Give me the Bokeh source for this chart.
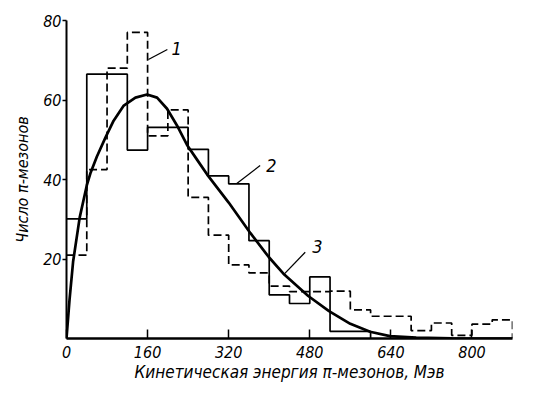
from bokeh.plotting import figure
from bokeh.models import Range1d, FixedTicker, ColumnDataSource
from bokeh.core.properties import value
from bokeh.embed import file_html
from bokeh.resources import INLINE

FONT = "DejaVu Sans Condensed"

# 40 MeV bins, edges 0..880
bin_edges = list(range(0, 881, 40))
# histogram 1 (dashed)
hist1 = [21, 42.5, 68, 77, 51, 57.5, 35.5, 26, 18.5, 16.5, 13.2, 11.8,
         11.8, 11.9, 7.2, 5.6, 5.6, 2.0, 3.9, 0.8, 3.6, 4.7]
# histogram 2 (solid)
hist2 = [30.1, 66.5, 66.5, 47.4, 53.1, 53.1, 47.6, 40.9, 38.9, 24.6, 11.0, 8.8,
         15.5, 1.8, 1.8, 0, 0, 0, 0, 0, 0, 0]
# curve 3 (smooth theoretical)
curve_x = [0, 6, 13, 26, 40, 47, 60, 77, 93, 113, 136, 159, 178.7, 198.4,
           218, 237.8, 257.5, 277.2, 320, 363, 399, 428, 477, 518, 560, 599, 638,
           690, 760, 880]
curve_y = [0, 9.8, 19.3, 30.4, 38.5, 41.5, 45.8, 50.6, 54.8, 58.6, 60.6, 61.4, 60.6,
           57.8, 53.6, 48.7, 45, 41.3, 34.2, 26.5, 20.5, 16.3, 10.7, 6.9, 3.7, 1.7,
           0.6, 0.2, 0.05, 0]

x_ticks = [0, 160, 320, 480, 640, 800]
y_ticks = [20, 40, 60, 80]

curve_names = ["1", "2", "3"]
leader_x0 = [161.6, 336, 428]
leader_y0 = [70.2, 39, 16.0]
leader_x1 = [199, 382, 471]
leader_y1 = [72.7, 43.5, 21.7]
name_x = [207, 394, 485]
name_y = [72.9, 43.6, 23.2]


def steps(edges, vals):
    xs, ys = [], []
    last = max(i for i, v in enumerate(vals) if v > 0)
    for i in range(last + 1):
        xs += [edges[i], edges[i + 1]]
        ys += [vals[i], vals[i]]
    xs.append(edges[last + 1])
    ys.append(0)
    return xs, ys


p = figure(width=518, height=384, output_backend="svg", toolbar_location=None,
           x_range=Range1d(0, 880), y_range=Range1d(0, 80),
           min_border_left=66, min_border_right=6, min_border_top=20,
           min_border_bottom=39)
p.outline_line_color = None
p.grid.visible = False
p.background_fill_color = "white"
p.border_fill_color = "white"

h1x, h1y = steps(bin_edges, hist1)
h2x, h2y = steps(bin_edges, hist2)
p.line(h1x, h1y, line_color="black", line_width=1.7, line_dash="8 4")
p.line(h2x, h2y, line_color="black", line_width=1.7)
p.line(curve_x, curve_y, line_color="black", line_width=2.7)

p.segment(x0=leader_x0, y0=leader_y0, x1=leader_x1, y1=leader_y1,
          line_color="black", line_width=1.3)
src = ColumnDataSource(dict(x=name_x, y=name_y, t=curve_names))
p.text(x="x", y="y", text="t", source=src, text_font=value(FONT),
       text_font_size="18px", text_font_style="italic", text_align="left",
       text_baseline="middle", text_color="black")

for ax in (p.xaxis, p.yaxis):
    ax.axis_line_color = "black"
    ax.major_tick_line_color = "black"
    ax.minor_tick_line_color = None
    ax.major_label_text_font = FONT
    ax.major_label_text_font_style = "italic"
    ax.major_label_text_font_size = "16px"
    ax.major_label_text_color = "black"
    ax.axis_label_text_font = FONT
    ax.axis_label_text_font_style = "italic"
    ax.axis_label_text_color = "black"

p.xaxis.ticker = FixedTicker(ticks=x_ticks)
p.xaxis.axis_line_width = 2.5
p.xaxis.major_tick_line_width = 1.5
p.xaxis.major_tick_in = 9
p.xaxis.major_tick_out = 0
p.xaxis.major_label_standoff = 7
p.xaxis.axis_label = "Кинетическая энергия π-мезонов, Мэв"
p.xaxis.axis_label_text_font_size = "17px"
p.xaxis.axis_label_standoff = 1

p.yaxis.ticker = FixedTicker(ticks=y_ticks)
p.yaxis.axis_line_width = 2
p.yaxis.major_tick_line_width = 1.5
p.yaxis.major_tick_in = 0
p.yaxis.major_tick_out = 4
p.yaxis.major_label_standoff = 1
p.yaxis.axis_label = "Число π-мезонов"
p.yaxis.axis_label_text_font_size = "16px"
p.yaxis.axis_label_standoff = 8

open("out.html", "w").write(file_html(p, INLINE))
